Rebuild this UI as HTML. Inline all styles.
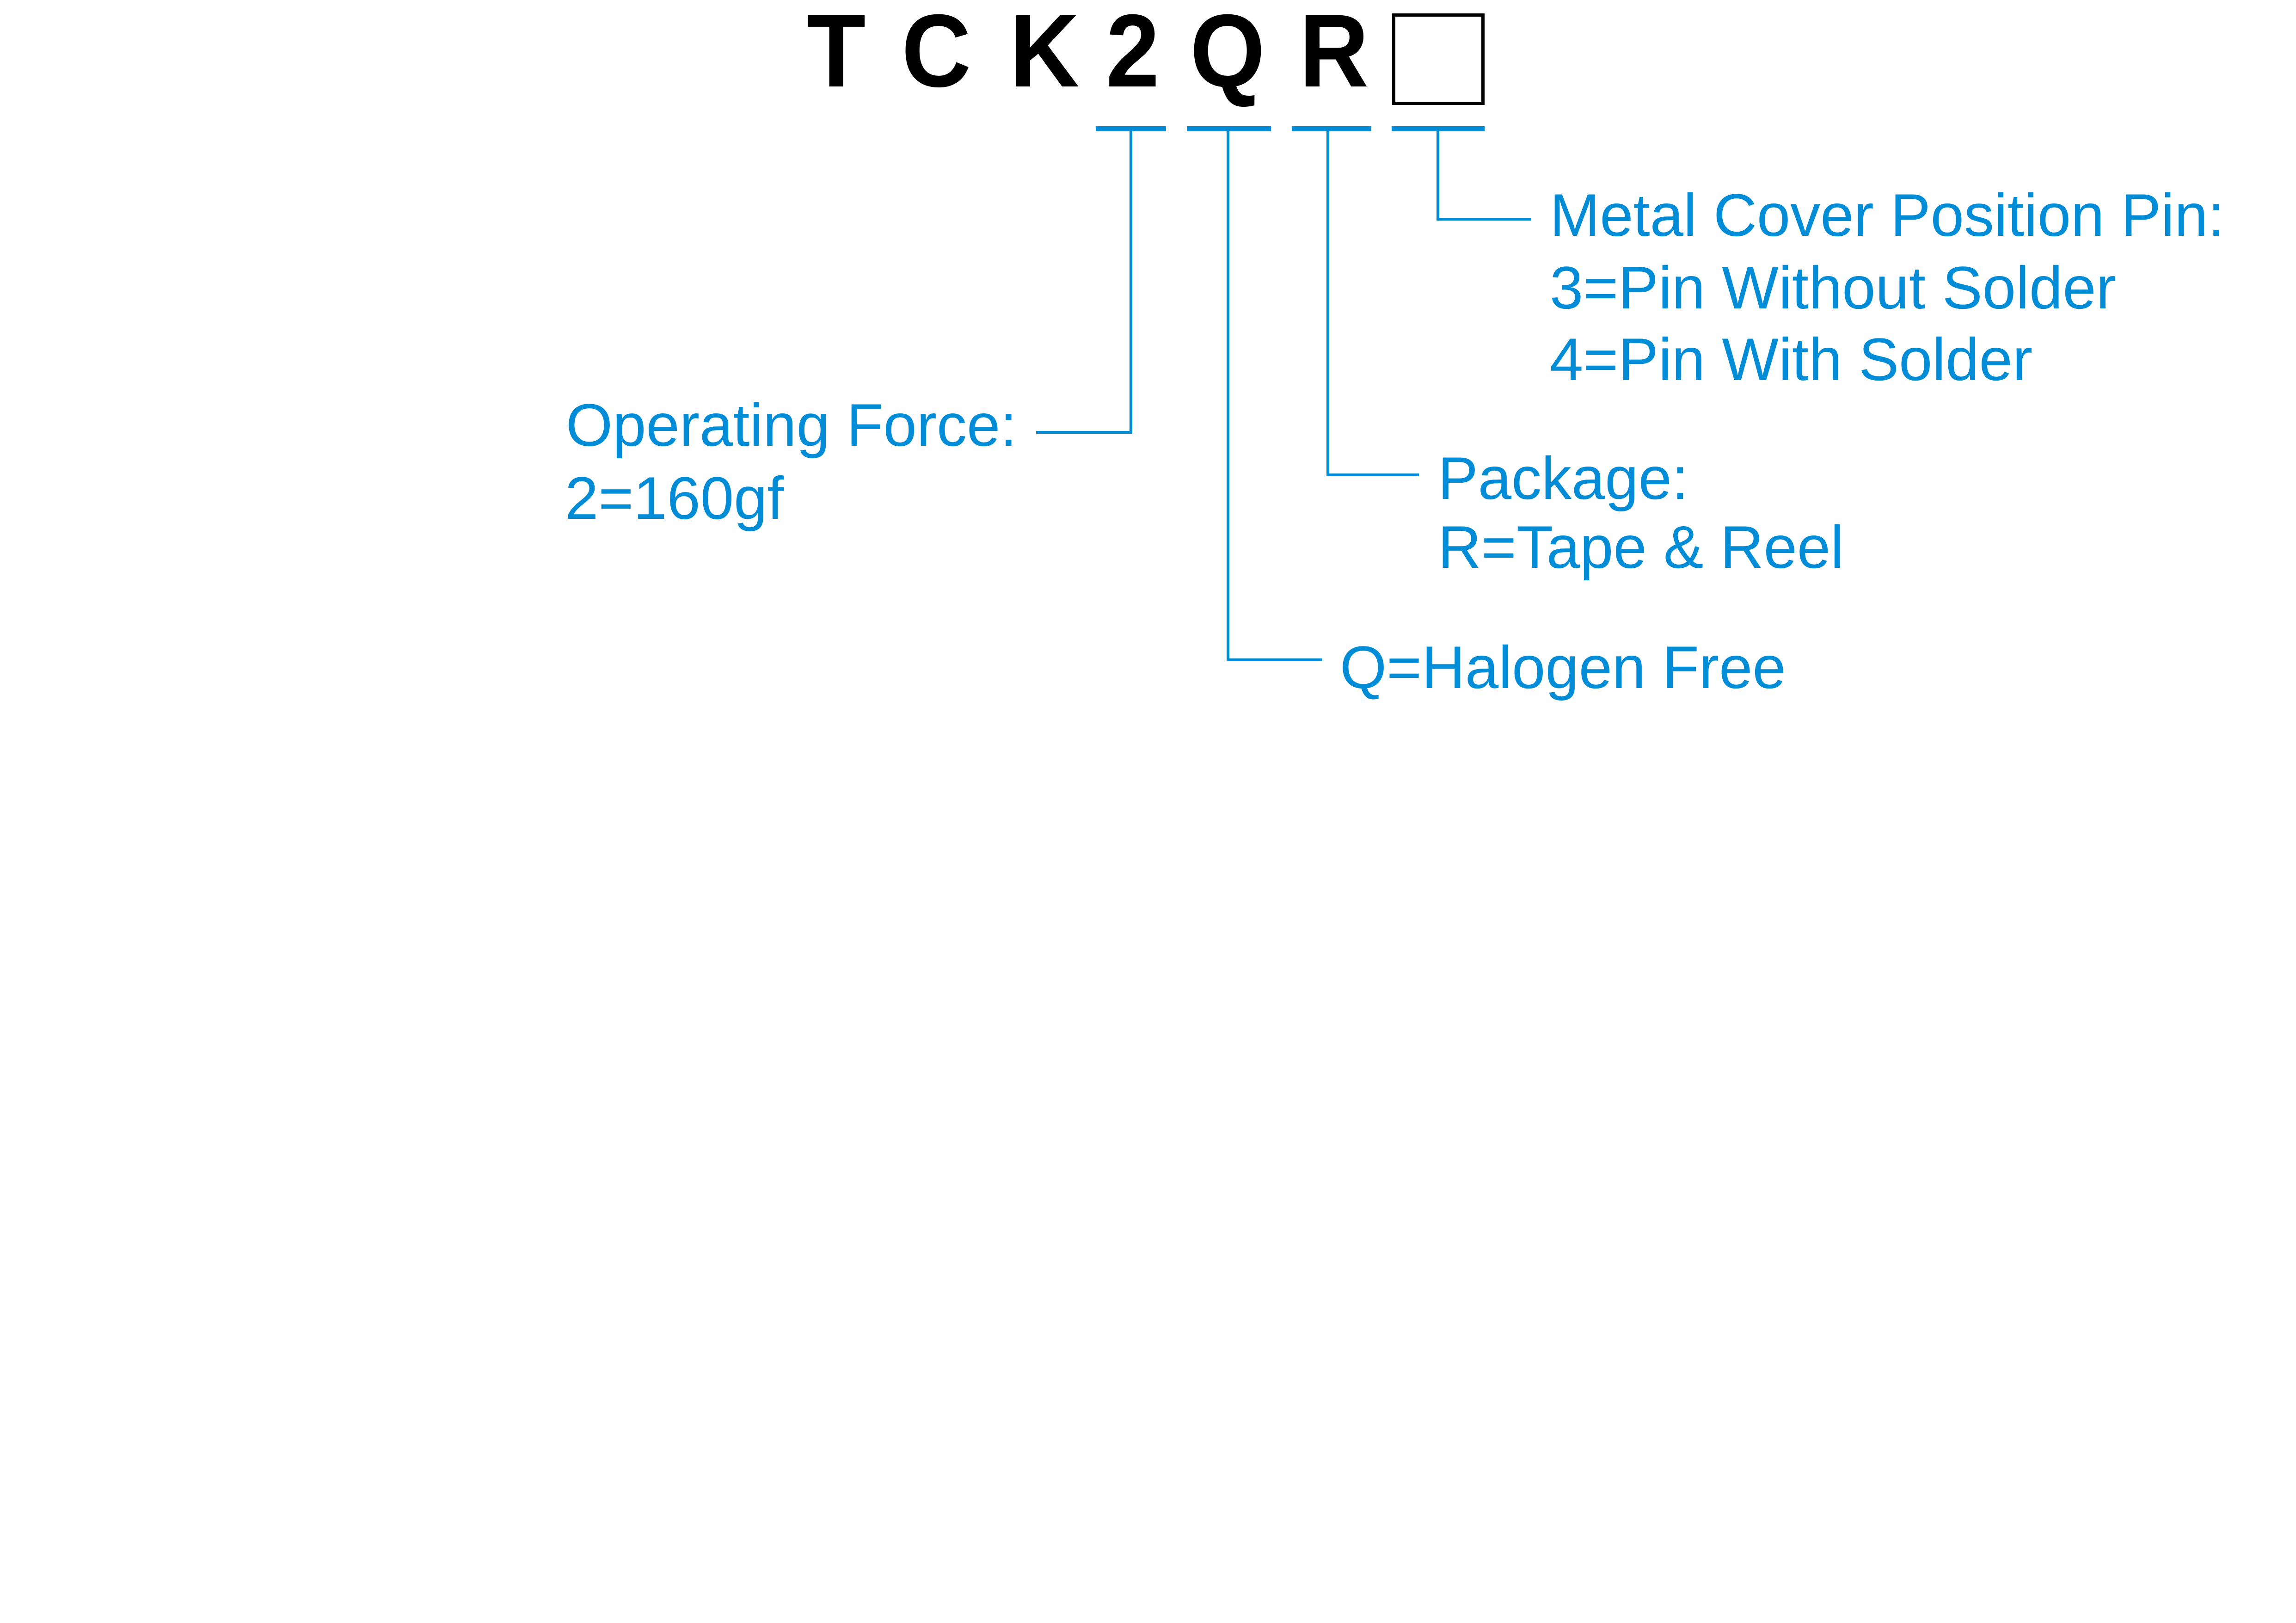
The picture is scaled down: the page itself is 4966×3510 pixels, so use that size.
<!DOCTYPE html>
<html><head><meta charset="utf-8"><style>
html,body{margin:0;padding:0;background:#fff;}
svg{display:block;}
</style></head><body>
<svg width="4966" height="3510" viewBox="0 0 4966 3510" xmlns="http://www.w3.org/2000/svg">
<rect width="4966" height="3510" fill="#fff"/>
<g font-family="'Liberation Sans', Arial, sans-serif" font-weight="bold" font-size="224" fill="#000">
<text transform="translate(1745 187) scale(0.93 1)">T</text>
<text transform="translate(1950 187) scale(0.93 1)">C</text>
<text transform="translate(2184 187) scale(0.93 1)">K</text>
<text transform="translate(2392 187) scale(0.93 1)">2</text>
<text transform="translate(2574 187) scale(0.93 1)">Q</text>
<text transform="translate(2810 187) scale(0.93 1)">R</text>
</g>
<rect x="3014.5" y="32.5" width="193" height="191" fill="none" stroke="#000" stroke-width="7"/>
<g fill="#008cd6">
<rect x="2370" y="273" width="152" height="11"/>
<rect x="2567" y="273" width="182" height="11"/>
<rect x="2794" y="273" width="172" height="11"/>
<rect x="3010" y="273" width="201" height="11"/>
</g>
<g fill="none" stroke="#008cd6" stroke-width="6">
<polyline points="2446,284 2446,935 2241,935"/>
<polyline points="2656,284 2656,1427 2859,1427"/>
<polyline points="2872,284 2872,1027 3069,1027"/>
<polyline points="3110,284 3110,474 3312,474"/>
</g>
<g font-family="'Liberation Sans', Arial, sans-serif" font-size="130" fill="#008cd6">
<text x="1224" y="964">Operating Force:</text>
<text x="1222" y="1122">2=160gf</text>
<text x="3352" y="510">Metal Cover Position Pin:</text>
<text x="3352" y="667">3=Pin Without Solder</text>
<text x="3352" y="822">4=Pin With Solder</text>
<text x="3110" y="1079">Package:</text>
<text x="3110" y="1228">R=Tape &amp; Reel</text>
<text x="2898" y="1488">Q=Halogen Free</text>
</g>
</svg>
</body></html>
